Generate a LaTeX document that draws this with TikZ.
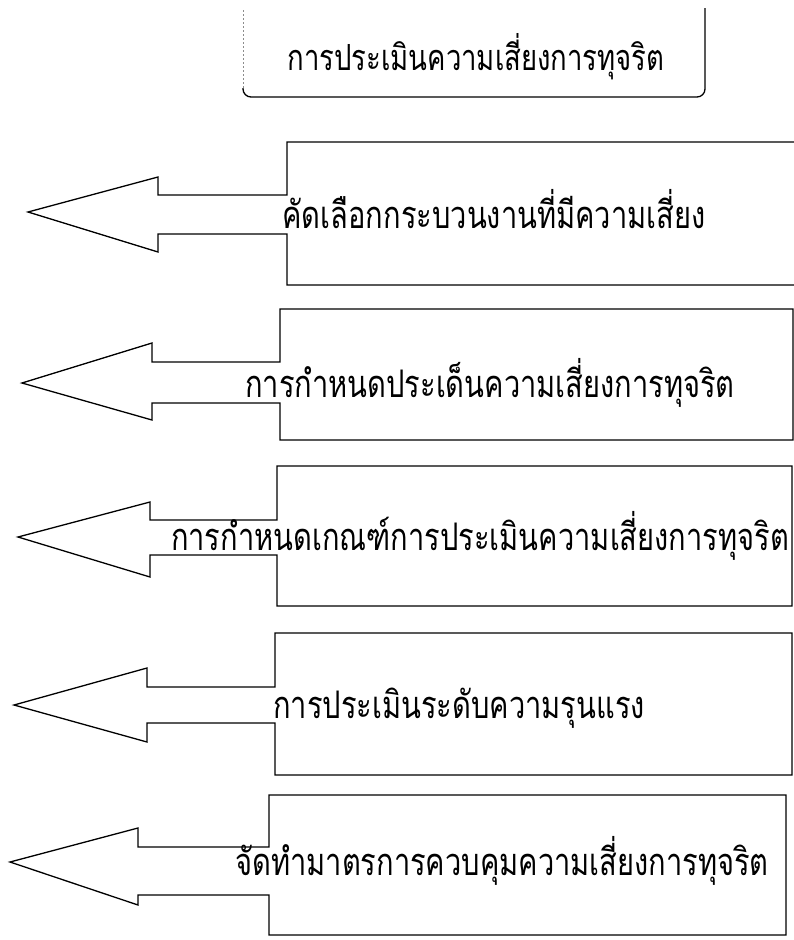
\documentclass[tikz,border=0pt]{standalone}
\usepackage{fontspec}
\newfontfamily\thaifont[Script=Thai,FakeStretch=0.764]{Loma}
\begin{document}
\begin{tikzpicture}[x=1pt,y=-1pt,
  callout/.style={draw=black,line width=1.3pt,fill=white,line join=miter},
  lbl/.style={font=\thaifont\fontsize{38}{44}\selectfont,inner sep=0pt,anchor=base},
  ttl/.style={font=\thaifont\fontsize{36}{42}\selectfont,inner sep=0pt,anchor=base}]
\useasboundingbox (0,0) rectangle (794,940);
% title box (open at top)
\draw[black!45,line width=0.6pt,dash pattern=on 2pt off 2pt] (243,10) -- (243,88);
\draw[black,line width=1.3pt,rounded corners=8pt] (243,88) |- (705,97) -- (705,8);
\node[ttl] (title) at (476,70) {การประเมินความเสี่ยงการทุจริต};
% callouts
\draw[callout] (287,142) -- (800,142) -- (800,285) -- (287,285) -- (287,234) -- (158,234) -- (158,252) -- (28,212) -- (158,177) -- (158,195) -- (287,195) -- cycle;
\draw[callout] (280,309) -- (793,309) -- (793,440) -- (280,440) -- (280,403) -- (152,403) -- (152,420) -- (22,383) -- (152,343) -- (152,362) -- (280,362) -- cycle;
\draw[callout] (277,466) -- (792,466) -- (792,606) -- (277,606) -- (277,555) -- (150,555) -- (150,577) -- (18,537) -- (150,502) -- (150,520) -- (277,520) -- cycle;
\draw[callout] (275,633) -- (792,633) -- (792,775) -- (275,775) -- (275,723) -- (147,723) -- (147,742) -- (14,705) -- (147,668) -- (147,687) -- (275,687) -- cycle;
\draw[callout] (269,795) -- (786,795) -- (786,935) -- (269,935) -- (269,895) -- (138,895) -- (138,905) -- (10,862) -- (138,828) -- (138,847) -- (269,847) -- cycle;
\node[lbl] (t1) at (494,228) {คัดเลือกกระบวนงานที่มีความเสี่ยง};
\node[lbl] (t2) at (490,397) {การกำหนดประเด็นความเสี่ยงการทุจริต};
\node[lbl] (t3) at (480,550) {การกำหนดเกณฑ์การประเมินความเสี่ยงการทุจริต};
\node[lbl] (t4) at (459,718) {การประเมินระดับความรุนแรง};
\node[lbl] (t5) at (502,875) {จัดทำมาตรการควบคุมความเสี่ยงการทุจริต};
\end{tikzpicture}
\end{document}
